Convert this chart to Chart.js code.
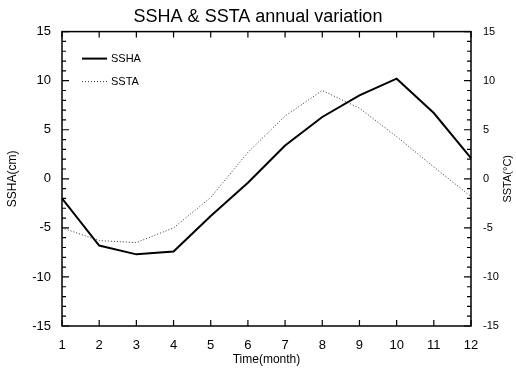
<!DOCTYPE html>
<html>
<head>
<meta charset="utf-8">
<script src="https://cdn.jsdelivr.net/npm/chart.js@4/dist/chart.umd.min.js"></script>
<style>
  html, body { margin: 0; padding: 0; background: #fff; }
  #wrap { width: 516px; height: 370px; }
</style>
</head>
<body>
<div id="wrap"><canvas id="chart" width="516" height="370"></canvas></div>
<script>
// data
const months = ['1', '2', '3', '4', '5', '6', '7', '8', '9', '10', '11', '12'];
const sshaValues = [-2.0, -6.8, -7.7, -7.4, -3.8, -0.4, 3.4, 6.3, 8.5, 10.2, 6.7, 2.1];
const sstaValues = [-5.0, -6.3, -6.5, -5.0, -1.9, 2.7, 6.4, 9.0, 7.2, 4.3, 1.2, -1.8];
const yRange = [-15, 15];
const rightTitle = 'SSTA(°C)';

const FONT = 'Liberation Sans';

// IDL-style frame: box round the plot, inward major and minor ticks
const frameTicks = {
    id: 'frameTicks',
    afterDraw(chart) {
        const { ctx, chartArea: a, scales } = chart;
        ctx.save();
        ctx.strokeStyle = '#000';
        ctx.lineWidth = 1.5;
        ctx.strokeRect(a.left, a.top, a.right - a.left, a.bottom - a.top);
        ctx.lineWidth = 1.2;
        ctx.beginPath();
        scales.x.ticks.forEach((t, i) => {
            const px = scales.x.getPixelForTick(i);
            ctx.moveTo(px, a.bottom); ctx.lineTo(px, a.bottom - 6);
            ctx.moveTo(px, a.top); ctx.lineTo(px, a.top + 6);
        });
        for (let v = yRange[0]; v <= yRange[1]; v++) {
            const len = v % 5 === 0 ? 7 : 4;
            const pl = scales.y.getPixelForValue(v);
            const pr = scales.y1.getPixelForValue(v);
            ctx.moveTo(a.left, pl); ctx.lineTo(a.left + len, pl);
            ctx.moveTo(a.right, pr); ctx.lineTo(a.right - len, pr);
        }
        ctx.stroke();

        // right axis title reads bottom to top, like the left one
        const s = scales.y1;
        ctx.translate(s.right - 8, (a.top + a.bottom) / 2);
        ctx.rotate(-Math.PI / 2);
        ctx.font = '11px "' + FONT + '"';
        ctx.fillStyle = '#000';
        ctx.textAlign = 'center';
        ctx.textBaseline = 'middle';
        ctx.fillText(rightTitle, 0, 0);
        ctx.restore();
    }
};

// small legend in the upper left corner of the plot
const cornerLegend = {
    id: 'cornerLegend',
    afterDraw(chart) {
        const { ctx, chartArea: a } = chart;
        ctx.save();
        ctx.font = '11px "' + FONT + '"';
        ctx.textBaseline = 'middle';
        chart.data.datasets.forEach((ds, i) => {
            const y = a.top + 27 + i * 23;
            const x0 = a.left + 20;
            ctx.strokeStyle = ds.borderColor;
            ctx.lineWidth = ds.borderWidth;
            ctx.setLineDash(ds.borderDash || []);
            ctx.beginPath();
            ctx.moveTo(x0, y); ctx.lineTo(x0 + 25, y);
            ctx.stroke();
            ctx.setLineDash([]);
            ctx.fillStyle = '#000';
            ctx.fillText(ds.label, x0 + 29, y);
        });
        ctx.restore();
    }
};

new Chart(document.getElementById('chart'), {
    type: 'line',
    data: {
        labels: months,
        datasets: [
            {
                label: 'SSHA',
                data: sshaValues,
                yAxisID: 'y',
                borderColor: '#000',
                borderWidth: 2,
                pointRadius: 0,
                tension: 0
            },
            {
                label: 'SSTA',
                data: sstaValues,
                yAxisID: 'y1',
                borderColor: '#333',
                borderWidth: 1,
                borderDash: [1, 2],
                pointRadius: 0,
                tension: 0
            }
        ]
    },
    options: {
        responsive: false,
        animation: false,
        layout: { padding: 0 },
        plugins: {
            legend: { display: false },
            tooltip: { enabled: false },
            title: {
                display: true,
                text: 'SSHA & SSTA annual variation',
                color: '#000',
                font: { family: FONT, size: 18, weight: 'normal' },
                padding: { top: 6, bottom: 4 }
            }
        },
        scales: {
            x: {
                offset: false,
                grid: { display: false },
                border: { display: false },
                ticks: { color: '#000', padding: 4, maxRotation: 0, font: { family: FONT, size: 13 } },
                title: { display: true, text: 'Time(month)', color: '#000', padding: { top: 0, bottom: 3 }, font: { family: FONT, size: 12 } },
                afterFit: s => { s.height = 44; }
            },
            y: {
                position: 'left',
                min: yRange[0], max: yRange[1],
                grid: { display: false },
                border: { display: false },
                ticks: { stepSize: 5, color: '#000', padding: 3, font: { family: FONT, size: 13 } },
                title: { display: true, text: 'SSHA(cm)', color: '#000', padding: { top: 5, bottom: 0 }, font: { family: FONT, size: 12 } },
                afterFit: s => { s.width = 62; }
            },
            y1: {
                position: 'right',
                min: yRange[0], max: yRange[1],
                grid: { display: false },
                border: { display: false },
                ticks: { stepSize: 5, color: '#000', padding: 4, font: { family: FONT, size: 11 } },
                title: { display: false },
                afterFit: s => { s.width = 45; }
            }
        }
    },
    plugins: [frameTicks, cornerLegend]
});
</script>
</body>
</html>
